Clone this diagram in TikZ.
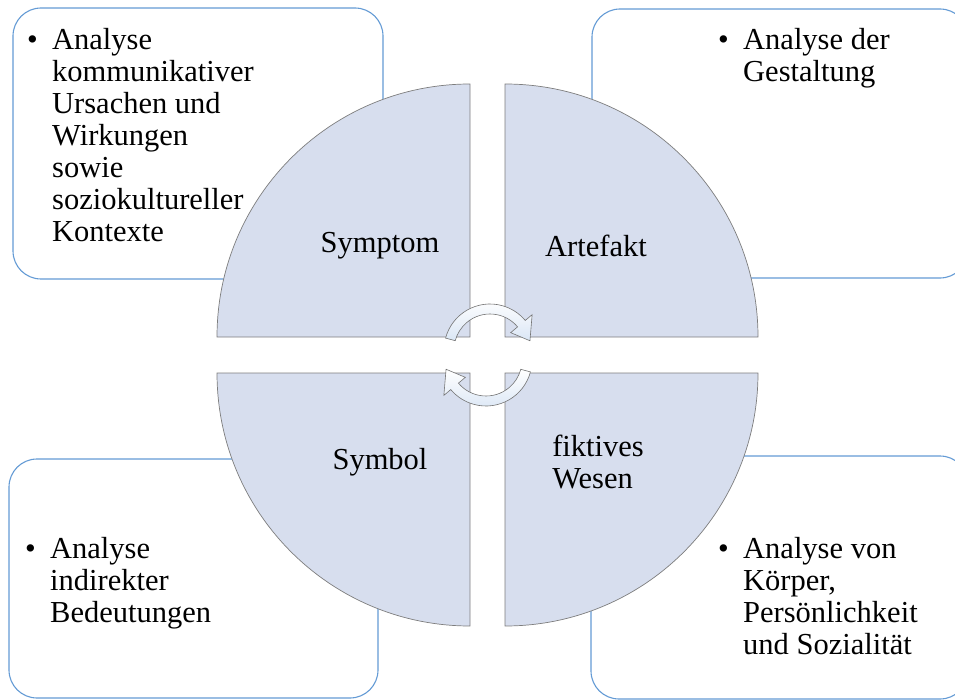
\documentclass[tikz,border=0pt]{standalone}
\usepackage{fontspec}
\setmainfont{Liberation Serif}
\definecolor{boxblue}{RGB}{100,155,213}
\definecolor{quadfill}{RGB}{215,222,238}
\definecolor{quadline}{RGB}{125,125,125}
\definecolor{arrowfill}{RGB}{218,230,245}
\newcommand\bulitem[1]{\makebox[25pt][l]{\textbullet}\begin{tabular}[t]{@{}l@{}}#1\end{tabular}}
\begin{document}
\begin{tikzpicture}[x=1pt,y=-1pt,
  infobox/.style={draw=boxblue,line width=1.1pt,fill=white,rounded corners=28pt},
  quad/.style={draw=quadline,line width=0.7pt,fill=quadfill},
  cyclearrow/.style={draw=black!55,line width=0.6pt,top color=white,bottom color=arrowfill},
  lbl/.style={font=\fontsize{30.5}{32}\selectfont,inner sep=0pt,align=left},
  bul/.style={font=\fontsize{30.5}{32}\selectfont,inner sep=0pt,anchor=base west}]
\useasboundingbox (0,0) rectangle (955,700);
\clip (0,0) rectangle (955,700);
% info boxes
\draw[infobox] (13,8) rectangle (383,279);
\draw[infobox] (592,9) rectangle (968,278);
\draw[infobox] (9,459) rectangle (378,698);
\draw[infobox] (591,456) rectangle (968,699);
% quadrants
\draw[quad] (470,337) -- ++(-253,0) arc[start angle=180,end angle=270,radius=253] -- cycle;
\draw[quad] (505,337) -- ++(0,-253) arc[start angle=270,end angle=360,radius=253] -- cycle;
\draw[quad] (470,373) -- ++(-253,0) arc[start angle=180,end angle=90,radius=253] -- cycle;
\draw[quad] (505,373) -- ++(253,0) arc[start angle=0,end angle=90,radius=253] -- cycle;
% cycle arrows
\begin{scope}[shift={(490,350)}]
\path[cyclearrow] (195:46) arc[start angle=195,end angle=320,radius=46] -- (320:55) -- (347:41) -- (320:27) -- (320:36) arc[start angle=320,end angle=195,radius=36] -- cycle;
\end{scope}
\begin{scope}[shift={(486,360)}]
\path[cyclearrow] (15:46) arc[start angle=15,end angle=140,radius=46] -- (140:55) -- (167:41) -- (140:27) -- (140:36) arc[start angle=140,end angle=15,radius=36] -- cycle;
\end{scope}
% labels
\node[lbl] (symptom) at (380,246) {Symptom};
\node[lbl] (artefakt) at (596,246) {Artefakt};
\node[lbl] (symbol) at (380,462) {Symbol};
\node[lbl] (wesen) at (598,462) {fiktives\\Wesen};
% bullet texts
\node[bul] (t1) at (27,50) {\bulitem{Analyse\\kommunikativer\\Ursachen und\\Wirkungen\\sowie\\soziokultureller\\Kontexte}};
\node[bul] (t2) at (718,50) {\bulitem{Analyse der\\Gestaltung}};
\node[bul] (t3) at (25,558) {\bulitem{Analyse\\indirekter\\Bedeutungen}};
\node[bul] (t4) at (718,558) {\bulitem{Analyse von\\Körper,\\Persönlichkeit\\und Sozialität}};
\end{tikzpicture}
\end{document}
